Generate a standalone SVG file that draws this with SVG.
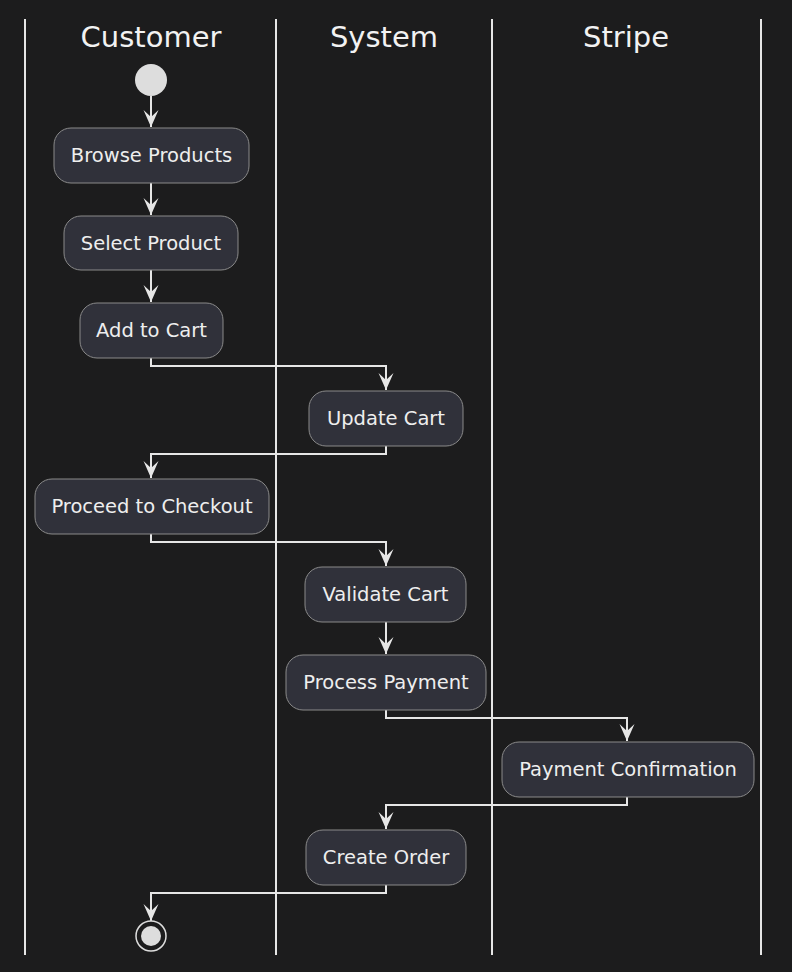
<svg xmlns="http://www.w3.org/2000/svg" width="792" height="972" viewBox="0 0 792 972">
<style>
.lane{stroke:#e6e6e6;stroke-width:2;fill:none}
.title{font-family:"DejaVu Sans",sans-serif;font-size:29px;fill:#f2f2f2;text-anchor:middle}
.act rect{fill:#30313a;stroke:#8a8a8a;stroke-width:1}
.act text{font-family:"DejaVu Sans",sans-serif;font-size:19.5px;fill:#eeeeee;text-anchor:middle}
.conn{stroke:#e6e6e6;stroke-width:2;fill:none}
</style>
<defs>
<marker id="arr" markerUnits="userSpaceOnUse" markerWidth="20" markerHeight="20" viewBox="-18 -10 20 20" refX="0" refY="0" orient="auto">
<path d="M0,0 L-17,-7.5 L-10,0 L-17,7.5 Z" fill="#e6e6e6"/>
</marker>
</defs>
<rect width="792" height="972" fill="#1c1c1d"/>
<g id="lanes">
<line class="lane" x1="25" y1="19" x2="25" y2="955"/>
<line class="lane" x1="276" y1="19" x2="276" y2="955"/>
<line class="lane" x1="492" y1="19" x2="492" y2="955"/>
<line class="lane" x1="761" y1="19" x2="761" y2="955"/>
<text class="title" x="151" y="47">Customer</text>
<text class="title" x="384" y="47">System</text>
<text class="title" x="626" y="47">Stripe</text>
</g>
<g id="connectors">
<path class="conn" d="M151,96 V127" marker-end="url(#arr)"/>
<path class="conn" d="M151,183 V215" marker-end="url(#arr)"/>
<path class="conn" d="M151,270 V302" marker-end="url(#arr)"/>
<path class="conn" d="M151,358 V366 H386 V390" marker-end="url(#arr)"/>
<path class="conn" d="M386,446 V454 H151 V478" marker-end="url(#arr)"/>
<path class="conn" d="M151,534 V542 H386 V566" marker-end="url(#arr)"/>
<path class="conn" d="M386,622 V654" marker-end="url(#arr)"/>
<path class="conn" d="M386,710 V718 H627 V741" marker-end="url(#arr)"/>
<path class="conn" d="M627,797 V805 H386 V829" marker-end="url(#arr)"/>
<path class="conn" d="M386,885 V893 H151 V921" marker-end="url(#arr)"/>
</g>
<g id="start"><circle cx="151" cy="80" r="16" fill="#dddddd"/></g>
<g id="browse" class="act"><rect x="54" y="128" width="195" height="55" rx="17"/><text x="151.5" y="162">Browse Products</text></g>
<g id="select" class="act"><rect x="64" y="216" width="174" height="54" rx="17"/><text x="151" y="250">Select Product</text></g>
<g id="addcart" class="act"><rect x="80" y="303" width="143" height="55" rx="17"/><text x="151.5" y="337">Add to Cart</text></g>
<g id="update" class="act"><rect x="309" y="391" width="154" height="55" rx="17"/><text x="386" y="425">Update Cart</text></g>
<g id="checkout" class="act"><rect x="35" y="479" width="234" height="55" rx="17"/><text x="152" y="513">Proceed to Checkout</text></g>
<g id="validate" class="act"><rect x="305" y="567" width="161" height="55" rx="17"/><text x="385.5" y="601">Validate Cart</text></g>
<g id="process" class="act"><rect x="286" y="655" width="200" height="55" rx="17"/><text x="386" y="689">Process Payment</text></g>
<g id="confirm" class="act"><rect x="502" y="742" width="252" height="55" rx="17"/><text x="628" y="776">Payment Confirmation</text></g>
<g id="order" class="act"><rect x="306" y="830" width="160" height="55" rx="17"/><text x="386" y="864">Create Order</text></g>
<g id="end"><circle cx="151" cy="936" r="15" fill="none" stroke="#dddddd" stroke-width="1.5"/><circle cx="151" cy="936" r="10" fill="#dddddd"/></g>
</svg>
